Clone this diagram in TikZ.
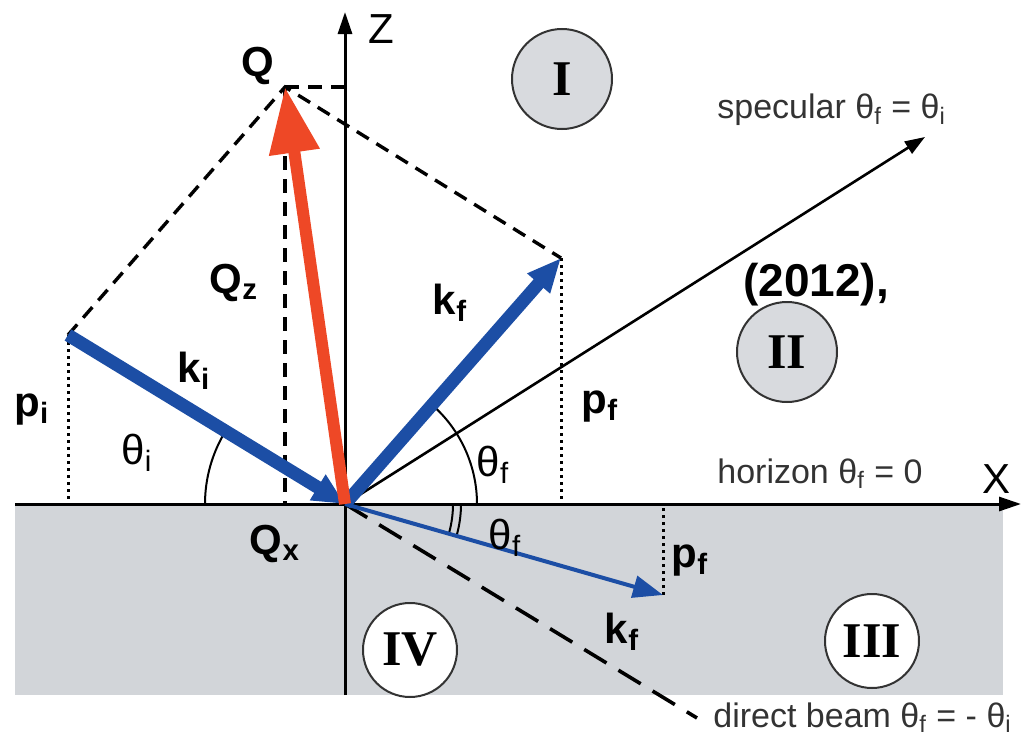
\documentclass[tikz,border=0pt]{standalone}
\usepackage{fontspec}
\setmainfont{Liberation Sans}
\newfontfamily\romanfont{Liberation Serif}
\usetikzlibrary{arrows.meta}
\definecolor{beamblue}{RGB}{28,78,165}
\definecolor{qred}{RGB}{238,72,38}
\definecolor{subgray}{RGB}{210,213,217}
\definecolor{regiongray}{RGB}{216,218,222}
\newcommand{\lowidx}[1]{\textsubscript{#1}}
\tikzset{
  lbl/.style={font=\fontsize{21}{24}\selectfont\bfseries, inner sep=0pt},
  ang/.style={font=\fontsize{21}{24}\selectfont, inner sep=0pt},
  note/.style={font=\fontsize{17}{20}\selectfont, text=black!80, inner sep=0pt, anchor=west},
  region/.style={circle, draw=black!80, line width=1pt, minimum size=50pt, inner sep=0pt,
    font=\romanfont\fontsize{25}{25}\selectfont\bfseries},
  constr/.style={line width=1.7pt, dash pattern=on 7pt off 4.5pt},
  proj/.style={line width=1.5pt, dotted},
}
\begin{document}
\begin{tikzpicture}[x=0.5pt, y=0.5pt, >=Stealth]
 \useasboundingbox (0,0) rectangle (1024,736);
 % substrate
 \fill[subgray] (15,41) rectangle (1003,232);
 % points
 \coordinate (O) at (345,232);
 \coordinate (Q) at (285,649);
 \coordinate (Ki) at (68,401);
 \coordinate (Kf) at (561,478);
 \coordinate (Kt) at (663,141);
 \coordinate (Sp) at (925,599);
 \coordinate (Db) at (697,18);
 \coordinate (Xs) at (15,232);
 \coordinate (Xe) at (1021,232);
 \coordinate (Zs) at (345,41);
 \coordinate (Ze) at (345,724);
 % regions
 \node[region, fill=regiongray] (rI) at (562,657) {I};
 \node[region, fill=regiongray] (rII) at (787,384) {II};
 \node[region, fill=white, minimum size=47pt] (rIII) at (872,95) {III};
 \node[region, fill=white, minimum size=47pt] (rIV) at (410,86) {IV};
 % construction lines
 \draw[constr] (Ki) -- (Q) -- (Kf);
 \draw[constr] (Q) -- (Q -| O);
 \draw[constr] (Q) -- (Q |- O);
 \draw[proj] (Ki) -- (Ki |- O);
 \draw[proj] (Kf) -- (Kf |- O);
 \draw[proj] (Kt) -- (Kt |- O);
 \draw[line width=1.8pt, dash pattern=on 13pt off 7pt] (O) -- (Db);
 % axes
 \draw[line width=1.5pt, -{Triangle[length=11pt,width=7pt]}] (Xs) -- (Xe);
 \draw[line width=1.5pt, -{Triangle[length=11pt,width=7pt]}] (Zs) -- (Ze);
 \draw[line width=1.3pt, -{Triangle[length=10pt,width=7pt]}] (O) -- (Sp);
 % angles
 \draw[line width=1pt] (O) ++(180:70pt) arc[start angle=180, end angle=148.6, radius=70pt];
 \draw[line width=1pt] (O) ++(0:66pt) arc[start angle=0, end angle=48.7, radius=66pt];
 \draw[line width=1pt] (O) ++(0:54pt) arc[start angle=0, end angle=-16, radius=54pt];
 \draw[line width=1pt] (O) ++(0:58pt) arc[start angle=0, end angle=-16, radius=58pt];
 % wave vectors
 \draw[beamblue, line width=6.5pt, -{Triangle[length=16pt,width=14pt]}] (Ki) -- (O);
 \draw[beamblue, line width=6.5pt, -{Triangle[length=17pt,width=14pt]}] (O) -- (Kf);
 \draw[beamblue, line width=2pt, -{Triangle[length=15pt,width=11pt]}] (O) -- (Kt);
 \draw[qred, line width=6pt, -{Triangle[length=33pt,width=24pt]}] (O) -- (Q);
 % labels
 \node[lbl] (qlab) at (258,670) {Q};
 \node[ang] (zlab) at (381,707) {Z};
 \node[ang] (xlab) at (996,257) {X};
 \node[lbl] (qzlab) at (234,453) {Q\lowidx{z}};
 \node[lbl] (qxlab) at (275,192) {Q\lowidx{x}};
 \node[lbl] (kilab) at (194,365) {k\lowidx{i}};
 \node[lbl] (kflab) at (450,433) {k\lowidx{f}};
 \node[lbl] (ktlab) at (622,104) {k\lowidx{f}};
 \node[lbl] (pilab) at (32,326) {p\lowidx{i}};
 \node[lbl] (pflab) at (600,329) {p\lowidx{f}};
 \node[lbl] (ptlab) at (690,175) {p\lowidx{f}};
 \node[ang] (tilab) at (137,283) {θ\lowidx{i}};
 \node[ang] (tflab) at (493,271) {θ\lowidx{f}};
 \node[ang] (ttlab) at (505,198) {θ\lowidx{f}};
 \node[lbl, font=\fontsize{23}{26}\selectfont\bfseries] (yrlab) at (816,451) {(2012),};
 \node[note] (speclab) at (717,626) {specular θ\lowidx{f} = θ\lowidx{i}};
 \node[note] (horlab) at (717,262) {horizon θ\lowidx{f} = 0};
 \node[note] (dirlab) at (713,18) {direct beam θ\lowidx{f} = - θ\lowidx{i}};
\end{tikzpicture}
\end{document}
